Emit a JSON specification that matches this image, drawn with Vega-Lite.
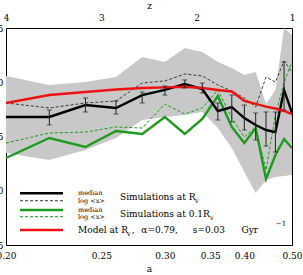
{
  "$schema": "https://vega.github.io/schema/vega-lite/v6.json",
  "autosize": {"type": "none"},
  "padding": {"left": 6, "top": 28, "right": 11, "bottom": 30},
  "width": 286,
  "height": 217,
  "background": "white",
  "config": {
    "view": {"stroke": "black", "strokeWidth": 1},
    "axis": {
      "labelFont": "DejaVu Serif", "titleFont": "DejaVu Serif",
      "labelFontSize": 9, "titleFontSize": 9, "titleFontWeight": "normal",
      "labelColor": "black", "titleColor": "black", "tickColor": "black",
      "domain": false, "grid": false, "tickSize": 0, "tickWidth": 1,
      "labelFlush": false, "labelOverlap": false, "labelBound": false
    },
    "text": {"font": "DejaVu Serif"}
  },
  "datasets": {
    "sims": [
      {"a": 0.20, "z": 4.0, "band_lo": -1.652, "band_hi": -0.942, "rv_med": -1.320, "err_lo": null, "err_hi": null, "rv_log": -1.191, "in_med": -1.698, "in_log": -1.560, "model": -1.191},
      {"a": 0.22, "z": 3.5455, "band_lo": -1.717, "band_hi": -1.025, "rv_med": -1.320, "err_lo": -1.394, "err_hi": -1.256, "rv_log": -1.237, "in_med": -1.514, "in_log": -1.468, "model": -1.118},
      {"a": 0.24, "z": 3.1667, "band_lo": -1.624, "band_hi": -0.998, "rv_med": -1.210, "err_lo": -1.274, "err_hi": -1.145, "rv_log": -1.191, "in_med": -1.597, "in_log": -1.459, "model": -1.090},
      {"a": 0.26, "z": 2.8462, "band_lo": -1.514, "band_hi": -0.952, "rv_med": -1.237, "err_lo": -1.293, "err_hi": -1.173, "rv_log": -1.173, "in_med": -1.449, "in_log": -1.412, "model": -1.067},
      {"a": 0.28, "z": 2.5714, "band_lo": -1.348, "band_hi": -0.767, "rv_med": -1.118, "err_lo": -1.191, "err_hi": -1.090, "rv_log": -1.007, "in_med": -1.477, "in_log": -1.422, "model": -1.053},
      {"a": 0.30, "z": 2.3333, "band_lo": -1.320, "band_hi": -0.813, "rv_med": -1.071, "err_lo": -1.118, "err_hi": -1.035, "rv_log": -0.988, "in_med": -1.320, "in_log": -1.200, "model": -1.047},
      {"a": 0.32, "z": 2.125, "band_lo": -1.302, "band_hi": -0.684, "rv_med": -1.016, "err_lo": -1.053, "err_hi": -0.979, "rv_log": -0.924, "in_med": -1.477, "in_log": -1.293, "model": -1.041},
      {"a": 0.34, "z": 1.9412, "band_lo": -1.274, "band_hi": -0.721, "rv_med": -1.062, "err_lo": -1.099, "err_hi": -1.007, "rv_log": -0.942, "in_med": -1.339, "in_log": -1.237, "model": -1.053},
      {"a": 0.36, "z": 1.7778, "band_lo": -1.422, "band_hi": -0.813, "rv_med": -1.265, "err_lo": -1.348, "err_hi": -1.191, "rv_log": -1.025, "in_med": -1.127, "in_log": -1.071, "model": -1.071},
      {"a": 0.38, "z": 1.6316, "band_lo": -1.606, "band_hi": -0.869, "rv_med": -1.228, "err_lo": -1.366, "err_hi": -1.118, "rv_log": -1.081, "in_med": -1.412, "in_log": -1.330, "model": -1.085},
      {"a": 0.40, "z": 1.5, "band_lo": -1.827, "band_hi": -0.933, "rv_med": -1.330, "err_lo": -1.440, "err_hi": -1.210, "rv_log": -1.145, "in_med": -1.560, "in_log": -1.505, "model": -1.173},
      {"a": 0.42, "z": 1.381, "band_lo": -2.021, "band_hi": -0.906, "rv_med": -1.394, "err_lo": -1.532, "err_hi": -1.283, "rv_log": -1.228, "in_med": -1.422, "in_log": -1.412, "model": -1.200},
      {"a": 0.44, "z": 1.2727, "band_lo": -1.901, "band_hi": -1.200, "rv_med": -1.440, "err_lo": -1.588, "err_hi": -1.274, "rv_log": -0.952, "in_med": -1.892, "in_log": -1.809, "model": -1.224},
      {"a": 0.46, "z": 1.1739, "band_lo": -1.873, "band_hi": -1.071, "rv_med": -1.459, "err_lo": -1.643, "err_hi": -1.274, "rv_log": -0.998, "in_med": -1.671, "in_log": -1.302, "model": -1.242},
      {"a": 0.48, "z": 1.0833, "band_lo": -1.864, "band_hi": -0.500, "rv_med": -1.071, "err_lo": -1.256, "err_hi": -0.813, "rv_log": -0.804, "in_med": -1.523, "in_log": -0.998, "model": -1.265},
      {"a": 0.50, "z": 1.0, "band_lo": -1.855, "band_hi": -0.565, "rv_med": -1.283, "err_lo": null, "err_hi": null, "rv_log": -0.906, "in_med": -1.606, "in_log": -0.813, "model": -1.293}
    ],
    "legend_lines": [
      {"series": "rv_med", "z1": 3.853, "z2": 3.402, "ly": -2.0235},
      {"series": "rv_log", "z1": 3.853, "z2": 3.402, "ly": -2.092},
      {"series": "in_med", "z1": 3.853, "z2": 3.402, "ly": -2.177},
      {"series": "in_log", "z1": 3.853, "z2": 3.402, "ly": -2.239},
      {"series": "model", "z1": 3.853, "z2": 3.402, "ly": -2.362}
    ],
    "legend_text": [
      {"text": "median", "tz": 3.2445, "ty": -2.0235, "kind": "small"},
      {"text": "log <x>", "tz": 3.2445, "ty": -2.092, "kind": "small"},
      {"text": "Simulations at R", "tz": 2.804, "ty": -2.0576, "kind": "main"},
      {"text": "v", "tz": 2.0168, "ty": -2.099, "kind": "sub"},
      {"text": "median", "tz": 3.2445, "ty": -2.177, "kind": "small"},
      {"text": "log <x>", "tz": 3.2445, "ty": -2.239, "kind": "small"},
      {"text": "Simulations at 0.1R", "tz": 2.804, "ty": -2.2097, "kind": "main"},
      {"text": "v", "tz": 1.86, "ty": -2.251, "kind": "sub"},
      {"text": "Model at R", "tz": 3.2445, "ty": -2.362, "kind": "main"},
      {"text": "v", "tz": 2.73, "ty": -2.399, "kind": "sub"},
      {"text": ",", "tz": 2.68, "ty": -2.362, "kind": "main"},
      {"text": "α=0.79,", "tz": 2.58, "ty": -2.362, "kind": "main"},
      {"text": "s=0.03", "tz": 2.04, "ty": -2.362, "kind": "main"},
      {"text": "Gyr", "tz": 1.53, "ty": -2.362, "kind": "main"},
      {"text": "−1", "tz": 1.17, "ty": -2.31, "kind": "sup"}
    ]
  },
  "resolve": {"axis": {"x": "independent", "y": "independent"}},
  "layer": [
    {
      "data": {"name": "sims"},
      "mark": {"type": "area", "color": "#c8c8c8", "clip": true},
      "encoding": {
        "x": {"field": "z", "type": "quantitative",
          "scale": {"domain": [4, 1], "nice": false, "zero": false},
          "axis": {
            "orient": "bottom", "title": "a", "titlePadding": 4, "labelPadding": 6,
            "values": [4, 3.761905, 3.545455, 3.347826, 3.166667, 3, 2.846154, 2.703704, 2.571429, 2.448276, 2.333333, 2.225806, 2.125, 2.030303, 1.941176, 1.857143, 1.777778, 1.702703, 1.631579, 1.564103, 1.5, 1.439024, 1.380952, 1.325581, 1.272727, 1.222222, 1.173913, 1.12766, 1.083333, 1.040816, 1],
            "labelExpr": "indexof([20,25,30,35,40,50], round(100/(1+datum.value))) >= 0 ? format(1/(1+datum.value), '.2f') : ''",
            "encode": {"ticks": {"y2": {"value": {"expr": "round(100/(1+datum.value)) % 5 === 0 ? -7 : -4"}}}}
          }},
        "y": {"field": "band_hi", "type": "quantitative",
          "scale": {"domain": [-2.5, -0.5], "nice": false, "zero": false},
          "axis": {
            "orient": "left", "title": null, "labelPadding": 3,
            "values": [-2.5, -2.4, -2.3, -2.2, -2.1, -2.0, -1.9, -1.8, -1.7, -1.6, -1.5, -1.4, -1.3, -1.2, -1.1, -1.0, -0.9, -0.8, -0.7, -0.6, -0.5],
            "labelExpr": "round(datum.value*10) % 5 === 0 ? format(datum.value, '.1f') : ''",
            "encode": {"ticks": {"x2": {"value": {"expr": "round(datum.value*10) % 5 === 0 ? 7 : 4"}}}}
          }},
        "y2": {"field": "band_lo"}
      }
    },
    {
      "data": {"name": "sims"},
      "transform": [{"fold": ["rv_log", "in_log"], "as": ["series", "value"]}],
      "mark": {"type": "line", "clip": true, "strokeWidth": 1, "strokeDash": [3, 2]},
      "encoding": {
        "x": {"field": "z", "type": "quantitative",
          "scale": {"domain": [4, 1], "nice": false, "zero": false},
          "axis": {
            "orient": "top", "title": "z", "titlePadding": 3, "labelPadding": 6,
            "values": [4, 3.9, 3.8, 3.7, 3.6, 3.5, 3.4, 3.3, 3.2, 3.1, 3, 2.9, 2.8, 2.7, 2.6, 2.5, 2.4, 2.3, 2.2, 2.1, 2, 1.9, 1.8, 1.7, 1.6, 1.5, 1.4, 1.3, 1.2, 1.1, 1],
            "labelExpr": "abs(datum.value - round(datum.value)) < 0.001 ? format(datum.value, 'd') : ''",
            "encode": {"ticks": {"y2": {"value": {"expr": "abs(datum.value - round(datum.value)) < 0.001 ? 7 : 4"}}}}
          }},
        "y": {"field": "value", "type": "quantitative",
          "scale": {"domain": [-2.5, -0.5], "nice": false, "zero": false},
          "axis": {
            "orient": "right", "title": null, "labels": false,
            "values": [-2.5, -2.4, -2.3, -2.2, -2.1, -2.0, -1.9, -1.8, -1.7, -1.6, -1.5, -1.4, -1.3, -1.2, -1.1, -1.0, -0.9, -0.8, -0.7, -0.6, -0.5],
            "encode": {"ticks": {"x2": {"value": {"expr": "round(datum.value*10) % 5 === 0 ? -7 : -4"}}}}
          }},
        "color": {"field": "series", "type": "nominal", "legend": null,
          "scale": {"type": "ordinal", "domain": ["rv_med", "rv_log", "in_med", "in_log", "model"], "range": ["#000000", "#3a3a3a", "#1e9b1e", "#1e9b1e", "#ee1111"]}}
      }
    },
    {
      "data": {"name": "sims"},
      "transform": [{"fold": ["in_med", "rv_med", "model"], "as": ["series", "value"]}],
      "mark": {"type": "line", "clip": true, "strokeWidth": 2.4},
      "encoding": {
        "x": {"field": "z", "type": "quantitative", "axis": null},
        "y": {"field": "value", "type": "quantitative", "axis": null},
        "color": {"field": "series", "type": "nominal", "legend": null}
      }
    },
    {
      "data": {"name": "sims"},
      "mark": {"type": "rule", "color": "#222222", "strokeWidth": 1},
      "encoding": {
        "x": {"field": "z", "type": "quantitative", "axis": null},
        "y": {"field": "err_lo", "type": "quantitative", "axis": null},
        "y2": {"field": "err_hi"}
      }
    },
    {
      "data": {"name": "sims"},
      "mark": {"type": "tick", "orient": "horizontal", "color": "#222222", "size": 5, "thickness": 1},
      "encoding": {
        "x": {"field": "z", "type": "quantitative", "axis": null},
        "y": {"field": "err_lo", "type": "quantitative", "axis": null}
      }
    },
    {
      "data": {"name": "sims"},
      "mark": {"type": "tick", "orient": "horizontal", "color": "#222222", "size": 5, "thickness": 1},
      "encoding": {
        "x": {"field": "z", "type": "quantitative", "axis": null},
        "y": {"field": "err_hi", "type": "quantitative", "axis": null}
      }
    },
    {
      "data": {"name": "legend_lines"},
      "transform": [{"filter": "datum.series === 'rv_log' || datum.series === 'in_log'"}],
      "mark": {"type": "rule", "strokeWidth": 1, "strokeDash": [3, 2]},
      "encoding": {
        "x": {"field": "z1", "type": "quantitative", "axis": null},
        "x2": {"field": "z2"},
        "y": {"field": "ly", "type": "quantitative", "axis": null},
        "color": {"field": "series", "type": "nominal", "legend": null}
      }
    },
    {
      "data": {"name": "legend_lines"},
      "transform": [{"filter": "datum.series !== 'rv_log' && datum.series !== 'in_log'"}],
      "mark": {"type": "rule", "strokeWidth": 2.4},
      "encoding": {
        "x": {"field": "z1", "type": "quantitative", "axis": null},
        "x2": {"field": "z2"},
        "y": {"field": "ly", "type": "quantitative", "axis": null},
        "color": {"field": "series", "type": "nominal", "legend": null}
      }
    },
    {
      "data": {"name": "legend_text"},
      "mark": {"type": "text", "align": "left", "baseline": "middle", "color": "black", "font": "DejaVu Serif"},
      "encoding": {
        "x": {"field": "tz", "type": "quantitative", "axis": null},
        "y": {"field": "ty", "type": "quantitative", "axis": null},
        "text": {"field": "text", "type": "nominal"},
        "size": {"field": "kind", "type": "nominal", "legend": null,
          "scale": {"type": "ordinal", "domain": ["main", "small", "sub", "sup"], "range": [9, 6.5, 6.5, 7]}}
      }
    }
  ]
}
